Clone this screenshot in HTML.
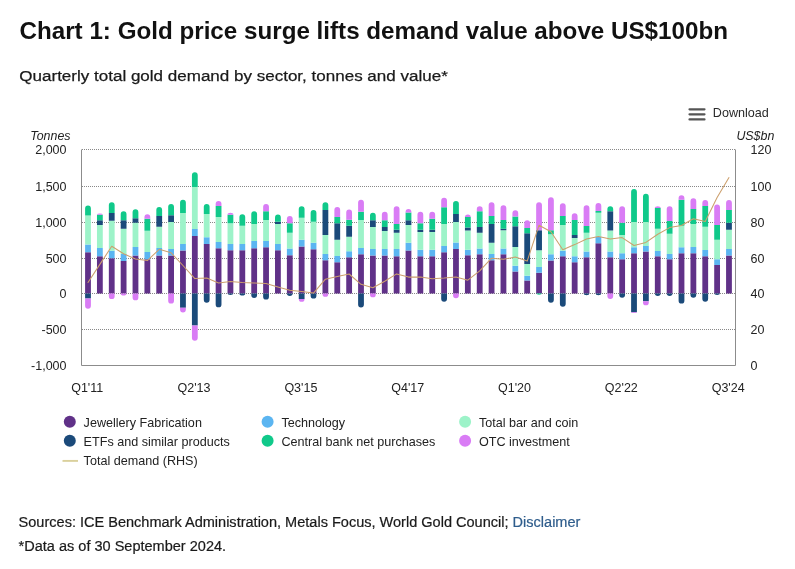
<!DOCTYPE html>
<html><head><meta charset="utf-8"><title>Chart 1: Gold price surge lifts demand value above US$100bn</title>
<style>
html,body{margin:0;padding:0;background:#fff;}
body{width:795px;height:569px;overflow:hidden;}
svg{display:block;will-change:transform;font-family:"Liberation Sans",Arial,sans-serif;}
</style></head><body>
<svg width="795" height="569" viewBox="0 0 795 569">
<rect width="795" height="569" fill="#fff"/>
<text x="19.5" y="38.7" font-size="24" font-weight="bold" fill="#111" textLength="708.5" lengthAdjust="spacingAndGlyphs">Chart 1: Gold price surge lifts demand value above US$100bn</text>
<text x="19.3" y="81.2" font-size="15.5" fill="#1a1a1a" stroke="#1a1a1a" stroke-width="0.25" textLength="428.5" lengthAdjust="spacingAndGlyphs">Quarterly total gold demand by sector, tonnes and value*</text>
<g stroke="#555" stroke-width="2.2" stroke-linecap="round"><line x1="689.5" x2="704.5" y1="109.3" y2="109.3"/><line x1="689.5" x2="704.5" y1="114.3" y2="114.3"/><line x1="689.5" x2="704.5" y1="119.4" y2="119.4"/></g>
<text x="712.8" y="116.8" font-size="12.6" fill="#2a2a2a">Download</text>
<text x="30.3" y="139.5" font-size="12.4" font-style="italic" fill="#222">Tonnes</text>
<text x="736.4" y="139.6" font-size="12.4" font-style="italic" fill="#222">US$bn</text>
<g stroke="#888" stroke-width="1" stroke-dasharray="1 1"><line x1="82" x2="735" y1="149.5" y2="149.5"/><line x1="82" x2="735" y1="186.5" y2="186.5"/><line x1="82" x2="735" y1="222.5" y2="222.5"/><line x1="82" x2="735" y1="258.5" y2="258.5"/><line x1="82" x2="735" y1="293.5" y2="293.5"/><line x1="82" x2="735" y1="329.5" y2="329.5"/></g>
<g stroke="#8c8c8c" stroke-width="1" fill="none"><path d="M81.5,149.5V365.5H735.5V149.5"/></g>
<path fill="#603188" d="M85.1,252.35H90.9V293.6H85.1ZM96.97,256.15H102.77V293.6H96.97ZM108.84,258.3H114.64V293.6H108.84ZM120.71,261.12H126.51V293.6H120.71ZM132.58,255.43H138.38V293.6H132.58ZM144.45,259.36H150.25V293.6H144.45ZM156.32,255.43H162.12V293.6H156.32ZM168.19,255.43H173.99V293.6H168.19ZM180.06,250.41H185.86V293.6H180.06ZM191.93,236H197.73V293.6H191.93ZM203.8,243.89H209.6V293.6H203.8ZM215.67,248.26H221.47V293.6H215.67ZM227.54,250.13H233.34V293.6H227.54ZM239.41,250.13H245.21V293.6H239.41ZM251.28,248.19H257.08V293.6H251.28ZM263.15,247.19H268.95V293.6H263.15ZM275.02,250.13H280.82V293.6H275.02ZM286.89,255.15H292.69V293.6H286.89ZM298.76,246.47H304.56V293.6H298.76ZM310.63,249.27H316.43V293.6H310.63ZM322.5,260.28H328.3V293.6H322.5ZM334.37,262.18H340.17V293.6H334.37ZM346.24,257.22H352.04V293.6H346.24ZM358.11,254.28H363.91V293.6H358.11ZM369.98,255.43H375.78V293.6H369.98ZM381.85,255.43H387.65V293.6H381.85ZM393.72,256.29H399.52V293.6H393.72ZM405.59,250.41H411.39V293.6H405.59ZM417.46,256.29H423.26V293.6H417.46ZM429.33,256.29H435.13V293.6H429.33ZM441.2,252.35H447V293.6H441.2ZM453.07,249.12H458.87V293.6H453.07ZM464.94,255.36H470.74V293.6H464.94ZM476.81,254.28H482.61V293.6H476.81ZM488.68,260.28H494.48V293.6H488.68ZM500.55,254.14H506.35V293.6H500.55ZM512.42,271.43H518.22V293.6H512.42ZM524.29,280.54H530.09V293.6H524.29ZM536.16,272.7H541.96V293.6H536.16ZM548.03,260.42H553.83V293.6H548.03ZM559.9,256.36H565.7V293.6H559.9ZM571.77,262.18H577.57V293.6H571.77ZM583.64,257.3H589.44V293.6H583.64ZM595.51,243.24H601.31V293.6H595.51ZM607.38,257.22H613.18V293.6H607.38ZM619.25,259.36H625.05V293.6H619.25ZM631.12,253.21H636.92V293.6H631.12ZM642.99,251.49H648.79V293.6H642.99ZM654.86,256.22H660.66V293.6H654.86ZM666.73,259.36H672.53V293.6H666.73ZM678.6,253.21H684.4V293.6H678.6ZM690.47,253.21H696.27V293.6H690.47ZM702.34,256.22H708.14V293.6H702.34ZM714.21,265.01H720.01V293.6H714.21ZM726.08,255.43H731.88V293.6H726.08Z"/>
<path fill="#5bb5f1" d="M85.1,244.46H90.9V252.35H85.1ZM96.97,247.9H102.77V256.15H96.97ZM108.84,250.77H114.64V258.3H108.84ZM120.71,254H126.51V261.12H120.71ZM132.58,246.9H138.38V255.43H132.58ZM144.45,251.99H150.25V259.36H144.45ZM156.32,248.12H162.12V255.43H156.32ZM168.19,248.98H173.99V255.43H168.19ZM180.06,243.89H185.86V250.41H180.06ZM191.93,228.97H197.73V236H191.93ZM203.8,237.22H209.6V243.89H203.8ZM215.67,241.95H221.47V248.26H215.67ZM227.54,243.89H233.34V250.13H227.54ZM239.41,243.89H245.21V250.13H239.41ZM251.28,241.09H257.08V248.19H251.28ZM263.15,241.09H268.95V247.19H263.15ZM275.02,243.89H280.82V250.13H275.02ZM286.89,248.62H292.69V255.15H286.89ZM298.76,239.87H304.56V246.47H298.76ZM310.63,242.81H316.43V249.27H310.63ZM322.5,253.93H328.3V260.28H322.5ZM334.37,256.01H340.17V262.18H334.37ZM346.24,251.13H352.04V257.22H346.24ZM358.11,248.12H363.91V254.28H358.11ZM369.98,248.98H375.78V255.43H369.98ZM381.85,248.98H387.65V255.43H381.85ZM393.72,248.98H399.52V256.29H393.72ZM405.59,242.81H411.39V250.41H405.59ZM417.46,249.84H423.26V256.29H417.46ZM429.33,249.84H435.13V256.29H429.33ZM441.2,245.97H447V252.35H441.2ZM453.07,242.45H458.87V249.12H453.07ZM464.94,249.84H470.74V255.36H464.94ZM476.81,248.55H482.61V254.28H476.81ZM488.68,254.07H494.48V260.28H488.68ZM500.55,248.41H506.35V254.14H500.55ZM512.42,265.71H518.22V271.43H512.42ZM524.29,275.67H530.09V280.54H524.29ZM536.16,266.91H541.96V272.7H536.16ZM548.03,254.36H553.83V260.42H548.03ZM559.9,250.63H565.7V256.36H559.9ZM571.77,256.36H577.57V262.18H571.77ZM583.64,251.49H589.44V257.3H583.64ZM595.51,236.43H601.31V243.24H595.51ZM607.38,251.49H613.18V257.22H607.38ZM619.25,253.21H625.05V259.36H619.25ZM631.12,247.26H636.92V253.21H631.12ZM642.99,246.11H648.79V251.49H642.99ZM654.86,251.06H660.66V256.22H654.86ZM666.73,254.07H672.53V259.36H666.73ZM678.6,247.26H684.4V253.21H678.6ZM690.47,247.11H696.27V253.21H690.47ZM702.34,250.05H708.14V256.22H702.34ZM714.21,259.15H720.01V265.01H714.21ZM726.08,249.12H731.88V255.43H726.08Z"/>
<path fill="#9df3c9" d="M85.1,215.4H90.9V244.46H85.1ZM96.97,225.03H102.77V247.9H96.97ZM108.84,220.87H114.64V250.77H108.84ZM120.71,228.83H126.51V254H120.71ZM132.58,222.81H138.38V246.9H132.58ZM144.45,230.7H150.25V251.99H144.45ZM156.32,226.68H162.12V248.12H156.32ZM168.19,221.95H173.99V248.98H168.19ZM180.06,212.96H185.86V243.89H180.06ZM191.93,187H197.73V228.97H191.93ZM203.8,213.97H209.6V237.22H203.8ZM215.67,216.99H221.47V241.95H215.67ZM227.54,223.17H233.34V243.89H227.54ZM239.41,225.82H245.21V243.89H239.41ZM251.28,224.03H257.08V241.09H251.28ZM263.15,220.01H268.95V241.09H263.15ZM275.02,224.03H280.82V243.89H275.02ZM286.89,232.85H292.69V248.62H286.89ZM298.76,217.85H304.56V239.87H298.76ZM310.63,221.73H316.43V242.81H310.63ZM322.5,234.93H328.3V253.93H322.5ZM334.37,239.87H340.17V256.01H334.37ZM346.24,236.72H352.04V251.13H346.24ZM358.11,220.01H363.91V248.12H358.11ZM369.98,227.04H375.78V248.98H369.98ZM381.85,231.05H387.65V248.98H381.85ZM393.72,232.85H399.52V248.98H393.72ZM405.59,224.89H411.39V242.81H405.59ZM417.46,231.91H423.26V249.84H417.46ZM429.33,231.91H435.13V249.84H429.33ZM441.2,224.03H447V245.97H441.2ZM453.07,221.95H458.87V242.45H453.07ZM464.94,230.55H470.74V249.84H464.94ZM476.81,232.85H482.61V248.55H476.81ZM488.68,242.81H494.48V254.07H488.68ZM500.55,230.19H506.35V248.41H500.55ZM512.42,246.9H518.22V265.71H512.42ZM524.29,263.95H530.09V275.67H524.29ZM536.16,250.2H541.96V266.91H536.16ZM548.03,234.28H553.83V254.36H548.03ZM559.9,224.89H565.7V250.63H559.9ZM571.77,238.08H577.57V256.36H571.77ZM583.64,232.85H589.44V251.49H583.64ZM595.51,212.74H601.31V236.43H595.51ZM607.38,230.55H613.18V251.49H607.38ZM619.25,234.93H625.05V253.21H619.25ZM631.12,221.95H636.92V247.26H631.12ZM642.99,221.95H648.79V246.11H642.99ZM654.86,228.76H660.66V251.06H654.86ZM666.73,233.71H672.53V254.07H666.73ZM678.6,225.75H684.4V247.26H678.6ZM690.47,224.03H696.27V247.11H690.47ZM702.34,226.68H708.14V250.05H702.34ZM714.21,239.87H720.01V259.15H714.21ZM726.08,229.84H731.88V249.12H726.08Z"/>
<path fill="#1b4a7a" d="M85.1,293.6H90.9V298.48H85.1ZM96.97,220.15H102.77V225.03H96.97ZM108.84,212.96H114.64V220.87H108.84ZM120.71,220.22H126.51V228.83H120.71ZM132.58,218.21H138.38V222.81H132.58ZM156.32,216.12H162.12V226.68H156.32ZM168.19,215.26H173.99V221.95H168.19ZM180.06,293.6H185.86V307.82H180.06ZM191.93,293.6H197.73V325.48H191.93ZM203.8,293.6V299.73A2.9,2.9 0 0 0 209.6,299.73V293.6ZM215.67,293.6V304.4A2.9,2.9 0 0 0 221.47,304.4V293.6ZM227.54,293.6A2.9,1.35 0 0 0 233.34,293.6ZM239.41,293.6A2.9,2 0 0 0 245.21,293.6ZM251.28,293.6V294.99A2.9,2.9 0 0 0 257.08,294.99V293.6ZM263.15,293.6V296.72A2.9,2.9 0 0 0 268.95,296.72V293.6ZM275.02,221.73H280.82V224.03H275.02ZM286.89,293.6A2.9,2.35 0 0 0 292.69,293.6ZM298.76,293.6H304.56V298.91H298.76ZM310.63,293.6V295.71A2.9,2.9 0 0 0 316.43,295.71V293.6ZM322.5,209.94H328.3V234.93H322.5ZM334.37,223.17H340.17V239.87H334.37ZM346.24,225.68H352.04V236.72H346.24ZM358.11,293.6V304.54A2.9,2.9 0 0 0 363.91,304.54V293.6ZM369.98,220.15H375.78V227.04H369.98ZM381.85,227.04H387.65V231.05H381.85ZM393.72,229.84H399.52V232.85H393.72ZM405.59,220.15H411.39V224.89H405.59ZM417.46,229.84H423.26V231.91H417.46ZM429.33,229.84H435.13V231.91H429.33ZM441.2,293.6V298.87A2.9,2.9 0 0 0 447,298.87V293.6ZM453.07,213.97H458.87V221.95H453.07ZM464.94,227.54H470.74V230.55H464.94ZM476.81,227.04H482.61V232.85H476.81ZM488.68,224.03H494.48V242.81H488.68ZM500.55,228.76H506.35V230.19H500.55ZM512.42,226.32H518.22V246.9H512.42ZM524.29,233.2H530.09V263.95H524.29ZM536.16,230.19H541.96V250.2H536.16ZM548.03,293.6V299.73A2.9,2.9 0 0 0 553.83,299.73V293.6ZM559.9,293.6V303.82A2.9,2.9 0 0 0 565.7,303.82V293.6ZM571.77,234.93H577.57V238.08H571.77ZM583.64,293.6A2.9,1.64 0 0 0 589.44,293.6ZM595.51,293.6A2.9,1.64 0 0 0 601.31,293.6ZM607.38,211.16H613.18V230.55H607.38ZM619.25,293.6V294.78A2.9,2.9 0 0 0 625.05,294.78V293.6ZM631.12,293.6H636.92V312.2H631.12ZM642.99,293.6H648.79V301.21H642.99ZM654.86,293.6A2.9,2.35 0 0 0 660.66,293.6ZM666.73,293.6A2.9,2.35 0 0 0 672.53,293.6ZM678.6,293.6V300.66A2.9,2.9 0 0 0 684.4,300.66V293.6ZM690.47,293.6V294.78A2.9,2.9 0 0 0 696.27,294.78V293.6ZM702.34,293.6V298.87A2.9,2.9 0 0 0 708.14,298.87V293.6ZM714.21,293.6A2.9,1.42 0 0 0 720.01,293.6ZM726.08,222.81H731.88V229.84H726.08Z"/>
<path fill="#10c98a" d="M85.1,215.4V208.4A2.9,2.9 0 0 1 90.9,208.4V215.4ZM96.97,214.83H102.77V220.15H96.97ZM108.84,212.96V205.09A2.9,2.9 0 0 1 114.64,205.09V212.96ZM120.71,220.22V214.15A2.9,2.9 0 0 1 126.51,214.15V220.22ZM132.58,218.21V212.14A2.9,2.9 0 0 1 138.38,212.14V218.21ZM144.45,218.78H150.25V230.7H144.45ZM156.32,216.12V209.98A2.9,2.9 0 0 1 162.12,209.98V216.12ZM168.19,215.26V206.82A2.9,2.9 0 0 1 173.99,206.82V215.26ZM180.06,212.96V202.57A2.9,2.9 0 0 1 185.86,202.57V212.96ZM191.93,187V175.21A2.9,2.9 0 0 1 197.73,175.21V187ZM203.8,213.97V206.82A2.9,2.9 0 0 1 209.6,206.82V213.97ZM215.67,206.06H221.47V216.99H215.67ZM227.54,214.68H233.34V223.17H227.54ZM239.41,225.82V217.03A2.9,2.9 0 0 1 245.21,217.03V225.82ZM251.28,224.03V214.08A2.9,2.9 0 0 1 257.08,214.08V224.03ZM263.15,211.16H268.95V220.01H263.15ZM275.02,221.73V217.38A2.9,2.9 0 0 1 280.82,217.38V221.73ZM286.89,223.17H292.69V232.85H286.89ZM298.76,217.85V209.12A2.9,2.9 0 0 1 304.56,209.12V217.85ZM310.63,221.73V213A2.9,2.9 0 0 1 316.43,213V221.73ZM322.5,209.94V205.09A2.9,2.9 0 0 1 328.3,205.09V209.94ZM334.37,216.99H340.17V223.17H334.37ZM346.24,219.86H352.04V225.68H346.24ZM358.11,211.66H363.91V220.01H358.11ZM369.98,220.15V215.66A2.9,2.9 0 0 1 375.78,215.66V220.15ZM381.85,220.15H387.65V227.04H381.85ZM393.72,224.03H399.52V229.84H393.72ZM405.59,212.6H411.39V220.15H405.59ZM417.46,223.17H423.26V229.84H417.46ZM429.33,218.78H435.13V229.84H429.33ZM441.2,207.28H447V224.03H441.2ZM453.07,213.97V203.8A2.9,2.9 0 0 1 458.87,203.8V213.97ZM464.94,216.99H470.74V227.54H464.94ZM476.81,211.16H482.61V227.04H476.81ZM488.68,216.12H494.48V224.03H488.68ZM500.55,220.01H506.35V228.76H500.55ZM512.42,216.48H518.22V226.32H512.42ZM524.29,227.9H530.09V233.2H524.29ZM536.16,293.6A2.9,1.06 0 0 0 541.96,293.6ZM548.03,230.34H553.83V234.28H548.03ZM559.9,216.12H565.7V224.89H559.9ZM571.77,220.01H577.57V234.93H571.77ZM583.64,226.11H589.44V232.85H583.64ZM595.51,210.95H601.31V212.74H595.51ZM607.38,211.16V209.12A2.9,2.9 0 0 1 613.18,209.12V211.16ZM619.25,222.81H625.05V234.93H619.25ZM631.12,221.95V192A2.9,2.9 0 0 1 636.92,192V221.95ZM642.99,221.95V196.75A2.9,2.9 0 0 1 648.79,196.75V221.95ZM654.86,207.93H660.66V228.76H654.86ZM666.73,221.01H672.53V233.71H666.73ZM678.6,199.87H684.4V225.75H678.6ZM690.47,209.08H696.27V224.03H690.47ZM702.34,205.91H708.14V226.68H702.34ZM714.21,224.89H720.01V239.87H714.21ZM726.08,209.94H731.88V222.81H726.08Z"/>
<path fill="#d97cf5" d="M85.1,298.48V305.83A2.9,2.9 0 0 0 90.9,305.83V298.48ZM96.97,214.83A2.9,1.42 0 0 1 102.77,214.83ZM108.84,293.6V296.21A2.9,2.9 0 0 0 114.64,296.21V293.6ZM120.71,293.6A2.9,2 0 0 0 126.51,293.6ZM132.58,293.6V297.43A2.9,2.9 0 0 0 138.38,297.43V293.6ZM144.45,218.78V217.03A2.9,2.9 0 0 1 150.25,217.03V218.78ZM168.19,293.6V300.66A2.9,2.9 0 0 0 173.99,300.66V293.6ZM180.06,307.82V309.57A2.9,2.9 0 0 0 185.86,309.57V307.82ZM191.93,325.48V337.86A2.9,2.9 0 0 0 197.73,337.86V325.48ZM215.67,206.06V203.8A2.9,2.9 0 0 1 221.47,203.8V206.06ZM227.54,214.68A2.9,1.93 0 0 1 233.34,214.68ZM263.15,211.16V206.82A2.9,2.9 0 0 1 268.95,206.82V211.16ZM286.89,223.17V218.82A2.9,2.9 0 0 1 292.69,218.82V223.17ZM298.76,298.91A2.9,2.86 0 0 0 304.56,298.91ZM322.5,293.6V293.92A2.9,2.9 0 0 0 328.3,293.92V293.6ZM334.37,216.99V209.98A2.9,2.9 0 0 1 340.17,209.98V216.99ZM346.24,219.86V212.5A2.9,2.9 0 0 1 352.04,212.5V219.86ZM358.11,211.66V202.57A2.9,2.9 0 0 1 363.91,202.57V211.66ZM369.98,293.6V294.42A2.9,2.9 0 0 0 375.78,294.42V293.6ZM381.85,220.15V214.72A2.9,2.9 0 0 1 387.65,214.72V220.15ZM393.72,224.03V209.12A2.9,2.9 0 0 1 399.52,209.12V224.03ZM405.59,212.6V211.78A2.9,2.9 0 0 1 411.39,211.78V212.6ZM417.46,223.17V214.72A2.9,2.9 0 0 1 423.26,214.72V223.17ZM429.33,218.78V214.72A2.9,2.9 0 0 1 435.13,214.72V218.78ZM441.2,207.28V200.63A2.9,2.9 0 0 1 447,200.63V207.28ZM453.07,293.6V295.35A2.9,2.9 0 0 0 458.87,295.35V293.6ZM464.94,216.99A2.9,2.5 0 0 1 470.74,216.99ZM476.81,211.16V209.12A2.9,2.9 0 0 1 482.61,209.12V211.16ZM488.68,216.12V205.09A2.9,2.9 0 0 1 494.48,205.09V216.12ZM500.55,220.01V208.25A2.9,2.9 0 0 1 506.35,208.25V220.01ZM512.42,216.48V213.14A2.9,2.9 0 0 1 518.22,213.14V216.48ZM524.29,227.9V223.21A2.9,2.9 0 0 1 530.09,223.21V227.9ZM536.16,230.19V205.09A2.9,2.9 0 0 1 541.96,205.09V230.19ZM548.03,230.34V200.27A2.9,2.9 0 0 1 553.83,200.27V230.34ZM559.9,216.12V206.1A2.9,2.9 0 0 1 565.7,206.1V216.12ZM571.77,220.01V216.16A2.9,2.9 0 0 1 577.57,216.16V220.01ZM583.64,226.11V208.25A2.9,2.9 0 0 1 589.44,208.25V226.11ZM595.51,210.95V205.88A2.9,2.9 0 0 1 601.31,205.88V210.95ZM607.38,293.6V296.07A2.9,2.9 0 0 0 613.18,296.07V293.6ZM619.25,222.81V209.12A2.9,2.9 0 0 1 625.05,209.12V222.81ZM631.12,312.2A2.9,0.92 0 0 0 636.92,312.2ZM642.99,301.21V302.39A2.9,2.9 0 0 0 648.79,302.39V301.21ZM654.86,207.93A2.9,1.71 0 0 1 660.66,207.93ZM666.73,221.01V209.12A2.9,2.9 0 0 1 672.53,209.12V221.01ZM678.6,199.87V198.04A2.9,2.9 0 0 1 684.4,198.04V199.87ZM690.47,209.08V201.21A2.9,2.9 0 0 1 696.27,201.21V209.08ZM702.34,205.91V202.93A2.9,2.9 0 0 1 708.14,202.93V205.91ZM714.21,224.89V207.32A2.9,2.9 0 0 1 720.01,207.32V224.89ZM726.08,209.94V202.93A2.9,2.9 0 0 1 731.88,202.93V209.94Z"/>
<polyline fill="none" stroke="#cc9f6c" stroke-width="1.05" stroke-linejoin="round" stroke-linecap="round" points="88,282.5 99.87,264.4 111.74,246.3 123.61,253.8 135.48,259 147.35,260.6 159.22,249.3 171.09,252.8 182.96,265.5 194.83,278.6 206.7,278.1 218.57,283 230.44,281.5 242.31,282.6 254.18,283 266.05,283.6 277.92,287 289.79,290.3 301.66,291.6 313.53,293.1 325.4,279.2 337.27,276.4 349.14,274 361.01,284.3 372.88,287.7 384.75,281.3 396.62,273.9 408.49,277.1 420.36,277 432.23,278.7 444.1,278.1 455.97,277.1 467.84,280.2 479.71,270.9 491.58,258.2 503.45,259.3 515.32,257.1 527.19,261.1 539.06,225.2 550.93,231.7 562.8,249.8 574.67,244.6 586.54,239 598.41,236.4 610.28,238.9 622.15,237.6 634.02,245.5 645.89,242.4 657.76,234.2 669.63,227.6 681.5,225.5 693.37,218.7 705.24,221.5 717.11,197.5 728.98,177.6"/>
<g font-size="12.5" fill="#222"><text x="66.5" y="154.2" text-anchor="end">2,000</text><text x="750.5" y="154.2">120</text><text x="66.5" y="191.2" text-anchor="end">1,500</text><text x="750.5" y="191.2">100</text><text x="66.5" y="227.2" text-anchor="end">1,000</text><text x="750.5" y="227.2">80</text><text x="66.5" y="263.2" text-anchor="end">500</text><text x="750.5" y="263.2">60</text><text x="66.5" y="298.2" text-anchor="end">0</text><text x="750.5" y="298.2">40</text><text x="66.5" y="334.2" text-anchor="end">-500</text><text x="750.5" y="334.2">20</text><text x="66.5" y="370.2" text-anchor="end">-1,000</text><text x="750.5" y="370.2">0</text><text x="87.2" y="391.7" text-anchor="middle">Q1'11</text><text x="194.03" y="391.7" text-anchor="middle">Q2'13</text><text x="300.86" y="391.7" text-anchor="middle">Q3'15</text><text x="407.69" y="391.7" text-anchor="middle">Q4'17</text><text x="514.52" y="391.7" text-anchor="middle">Q1'20</text><text x="621.35" y="391.7" text-anchor="middle">Q2'22</text><text x="728.18" y="391.7" text-anchor="middle">Q3'24</text></g>
<g font-size="12.6" fill="#222"><circle cx="69.8" cy="421.8" r="6" fill="#603188"/><text x="83.6" y="426.7">Jewellery Fabrication</text><circle cx="267.6" cy="421.8" r="6" fill="#5bb5f1"/><text x="281.4" y="426.7">Technology</text><circle cx="465.1" cy="421.8" r="6" fill="#9df3c9"/><text x="478.9" y="426.7">Total bar and coin</text><circle cx="69.8" cy="440.8" r="6" fill="#1b4a7a"/><text x="83.6" y="445.7">ETFs and similar products</text><circle cx="267.6" cy="440.8" r="6" fill="#10c98a"/><text x="281.4" y="445.7">Central bank net purchases</text><circle cx="465.1" cy="440.8" r="6" fill="#d97cf5"/><text x="478.9" y="445.7">OTC investment</text><line x1="62.5" x2="78" y1="460.9" y2="460.9" stroke="#dad09c" stroke-width="1.9"/><text x="83.6" y="465.4">Total demand (RHS)</text></g>
<text x="18.6" y="526.6" font-size="14" fill="#1a1a1a" stroke="#1a1a1a" stroke-width="0.2" textLength="561.8" lengthAdjust="spacingAndGlyphs">Sources: ICE Benchmark Administration, Metals Focus, World Gold Council; <tspan fill="#2f5d8c" stroke="#2f5d8c">Disclaimer</tspan></text>
<text x="18.6" y="550.5" font-size="14" fill="#1a1a1a" stroke="#1a1a1a" stroke-width="0.2" textLength="207.5" lengthAdjust="spacingAndGlyphs">*Data as of 30 September 2024.</text>
</svg>
</body></html>
